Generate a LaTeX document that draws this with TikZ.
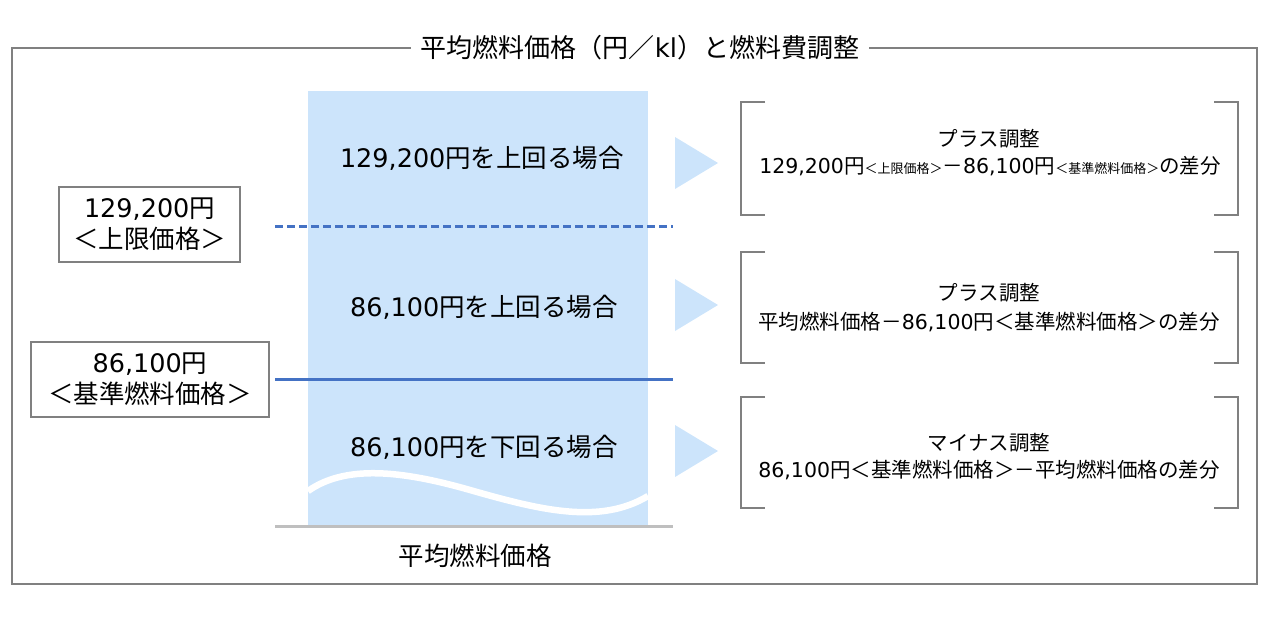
\documentclass[tikz,border=0pt]{standalone}
\usepackage{fontspec}
\setmainfont{Noto Sans CJK JP}
\newfontfamily\latfont{DejaVu Sans}
\newcommand\latn[1]{{\latfont #1}}
\definecolor{colfill}{RGB}{204,228,251}
\definecolor{lineblue}{RGB}{68,114,196}
\definecolor{framegray}{RGB}{128,128,128}
\definecolor{basegray}{RGB}{191,191,191}
\begin{document}
\begin{tikzpicture}[x=1pt,y=-1pt,
  bigtxt/.style={font=\fontsize{25.5}{28}\selectfont, inner sep=0pt},
  midtxt/.style={font=\fontsize{20.5}{23}\selectfont, inner sep=0pt},
  pricebox/.style={draw=framegray, line width=1.5pt, align=center, font=\fontsize{25.5}{31}\selectfont, inner sep=0pt},
  bracketline/.style={draw=framegray, line width=2pt},
  tri/.style={fill=colfill, draw=none}]
\useasboundingbox (0,0) rectangle (1272,619);
% outer frame
\draw[framegray, line width=1.5pt] (12,48) rectangle (1257,584);
\node[fill=white, inner xsep=10pt, inner ysep=2pt, font=\fontsize{26}{28}\selectfont] (title) at (640,48) {平均燃料価格（円／\latn{kl}）と燃料費調整};
% column
\fill[colfill] (308,91) rectangle (648,525);
\draw[white, line width=6.5pt] (308,491) .. controls (345,465) and (400,470) .. (470,490) .. controls (540,510) and (600,525) .. (648,496);
\draw[basegray, line width=3pt] (275,526) -- (673,526);
\node[bigtxt] (axis) at (475,556) {平均燃料価格};
% threshold lines
\draw[lineblue, line width=3pt, dash pattern=on 8pt off 4pt] (275,226) -- (673,226);
\draw[lineblue, line width=3pt] (275,379) -- (673,379);
% column texts
\node[bigtxt] (c1) at (482,158) {\latn{129,200}円を上回る場合};
\node[bigtxt] (c2) at (484,307) {\latn{86,100}円を上回る場合};
\node[bigtxt] (c3) at (484,447) {\latn{86,100}円を下回る場合};
% triangles
\fill[colfill] (675,137) -- (718,163) -- (675,189) -- cycle;
\fill[colfill] (675,279) -- (718,305) -- (675,331) -- cycle;
\fill[colfill] (675,425) -- (718,451) -- (675,477) -- cycle;
% left boxes
\node[pricebox, minimum width=181pt, minimum height=75pt] (b1) at (149.5,224.5) {\latn{129,200}円\\＜上限価格＞};
\node[pricebox, minimum width=238pt, minimum height=75pt] (b2) at (150,379.5) {\latn{86,100}円\\＜基準燃料価格＞};
% brackets
\foreach \t/\b in {102/215, 252/363, 397/508}{
  \draw[bracketline] (765,\t) -- (741,\t) -- (741,\b) -- (765,\b);
  \draw[bracketline] (1214,\t) -- (1238,\t) -- (1238,\b) -- (1214,\b);
}
% bracket texts
\node[midtxt] (r1a) at (989,139) {プラス調整};
\node[midtxt] (r1b) at (990,166) {\latn{129,200}円{\fontsize{13}{15}\selectfont ＜上限価格＞}－\latn{86,100}円{\fontsize{13}{15}\selectfont ＜基準燃料価格＞}の差分};
\node[midtxt] (r2a) at (989,293) {プラス調整};
\node[midtxt] (r2b) at (989,322) {平均燃料価格－\latn{86,100}円＜基準燃料価格＞の差分};
\node[midtxt] (r3a) at (989,443) {マイナス調整};
\node[midtxt] (r3b) at (989,470) {\latn{86,100}円＜基準燃料価格＞－平均燃料価格の差分};
\end{tikzpicture}
\end{document}
